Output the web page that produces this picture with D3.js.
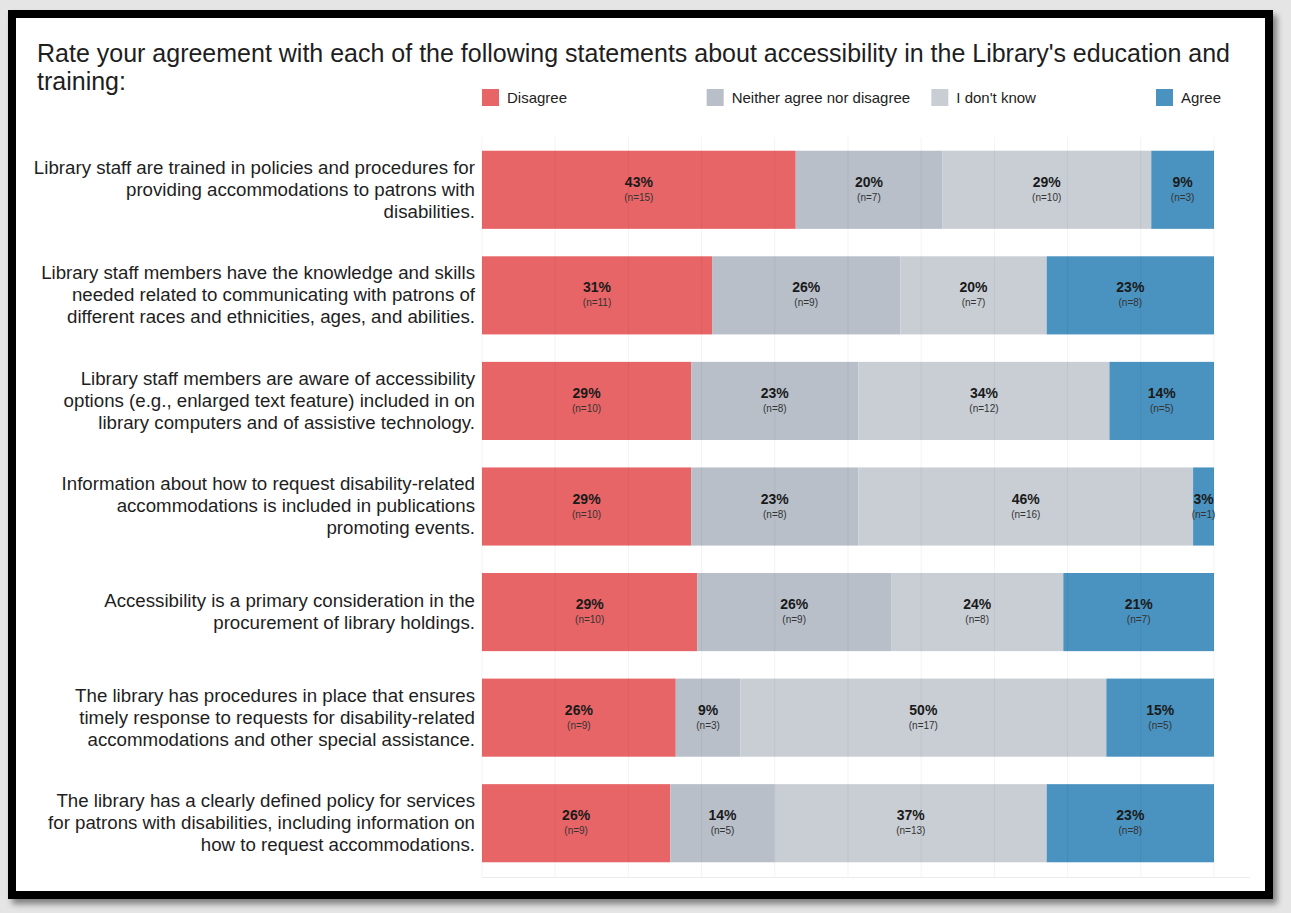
<!DOCTYPE html>
<html>
<head>
<meta charset="utf-8">
<script src="https://cdn.jsdelivr.net/npm/d3@7"></script>
<style>
  html, body { margin: 0; padding: 0; background: #e5e5e5; }
  svg { display: block; font-family: "Liberation Sans", Arial, sans-serif; }
</style>
</head>
<body>
<svg id="chart" width="1291" height="913"></svg>
<script>
// Survey statements (line breaks as laid out beside each bar)
const statements = [
  "Library staff are trained in policies and procedures for\nproviding accommodations to patrons with\ndisabilities.",
  "Library staff members have the knowledge and skills\nneeded related to communicating with patrons of\ndifferent races and ethnicities, ages, and abilities.",
  "Library staff members are aware of accessibility\noptions (e.g., enlarged text feature) included in on\nlibrary computers and of assistive technology.",
  "Information about how to request disability-related\naccommodations is included in publications\npromoting events.",
  "Accessibility is a primary consideration in the\nprocurement of library holdings.",
  "The library has procedures in place that ensures\ntimely response to requests for disability-related\naccommodations and other special assistance.",
  "The library has a clearly defined policy for services\nfor patrons with disabilities, including information on\nhow to request accommodations."
];

const responses = ["Disagree", "Neither agree nor disagree", "I don't know", "Agree"];

// Response counts per statement, in statement order
const disagree = [15, 11, 10, 10, 10, 9, 9];
const neither  = [7, 9, 8, 8, 9, 3, 5];
const dontKnow = [10, 7, 12, 16, 8, 17, 13];
const agree    = [3, 8, 5, 1, 7, 5, 8];

const colors = ["#e86567", "#b8bfc9", "#c9ced5", "#4a92bf"];
const gridTicks = [0, 0.1, 0.2, 0.3, 0.4, 0.5, 0.6, 0.7, 0.8, 0.9, 1];

const title1 = "Rate your agreement with each of the following statements about accessibility in the Library's education and";
const title2 = "training:";

const svg = d3.select("#chart");

// Framed panel with a soft drop shadow
const defs = svg.append("defs");
const f = defs.append("filter").attr("id", "shadow")
  .attr("x", "-5%").attr("y", "-5%").attr("width", "110%").attr("height", "110%");
f.append("feDropShadow").attr("dx", 4).attr("dy", 5).attr("stdDeviation", 3)
  .attr("flood-color", "#000").attr("flood-opacity", 0.45);

svg.append("rect").attr("x", 12).attr("y", 14).attr("width", 1257).attr("height", 881)
  .attr("fill", "#fff").attr("stroke", "#000").attr("stroke-width", 8)
  .attr("filter", "url(#shadow)");

// Title
svg.append("text").attr("x", 37).attr("y", 62).attr("font-size", 25).attr("fill", "#1e1e1e").text(title1);
svg.append("text").attr("x", 37).attr("y", 90).attr("font-size", 25).attr("fill", "#1e1e1e").text(title2);

// Build stacked rows
const rows = statements.map((s, i) => {
  const counts = [disagree[i], neither[i], dontKnow[i], agree[i]];
  const total = d3.sum(counts);
  let acc = 0;
  const segs = counts.map((c, k) => {
    const seg = { k, n: c, p: c / total, x0: acc / total, x1: (acc + c) / total };
    acc += c;
    return seg;
  });
  return { label: s, segs };
});

const x = d3.scaleLinear().domain([0, 1]).range([482, 1214]);
const y = d3.scaleBand().domain(d3.range(statements.length)).range([137, 876]).paddingInner(0.26).paddingOuter(0.13);

// Legend
const legendX = d3.scaleLinear().domain([0, 3]).range([482, 1156]);
const lg = svg.append("g").selectAll("g").data(responses).join("g")
  .attr("transform", (d, i) => `translate(${legendX(i)},89)`);
lg.append("rect").attr("width", 17).attr("height", 17).attr("fill", (d, i) => colors[i]);
lg.append("text").attr("x", 25).attr("y", 14).attr("font-size", 15).attr("fill", "#222").text(d => d);

// Bars
const rowG = svg.append("g").selectAll("g").data(rows).join("g")
  .attr("transform", (d, i) => `translate(0,${y(i)})`);

rowG.selectAll("rect").data(d => d.segs).join("rect")
  .attr("x", d => x(d.x0)).attr("width", d => x(d.x1) - x(d.x0))
  .attr("y", 0).attr("height", y.bandwidth())
  .attr("fill", d => colors[d.k]);

// Vertical gridlines, drawn faintly over the bars
const gridG = svg.append("g");
gridG.selectAll("line").data(gridTicks).join("line")
  .attr("x1", d => x(d)).attr("x2", d => x(d))
  .attr("y1", 137).attr("y2", 877)
  .attr("stroke", "#000").attr("stroke-opacity", 0.05).attr("stroke-width", 1);
gridG.append("line").attr("x1", 482).attr("x2", 1250).attr("y1", 877.5).attr("y2", 877.5)
  .attr("stroke", "#000").attr("stroke-opacity", 0.08);

// Segment labels
const labG = rowG.selectAll("g.lab").data(d => d.segs).join("g").attr("class", "lab")
  .attr("transform", d => `translate(${(x(d.x0) + x(d.x1)) / 2},${y.bandwidth() / 2})`);
labG.append("text").attr("text-anchor", "middle").attr("y", -3)
  .attr("font-size", 14).attr("font-weight", "bold").attr("fill", "#1a1a1a")
  .text(d => Math.round(d.p * 100) + "%");
labG.append("text").attr("text-anchor", "middle").attr("y", 11)
  .attr("font-size", 10).attr("fill", "#333")
  .text(d => `(n=${d.n})`);

// Statement labels, right-aligned beside each bar
rowG.each(function(d) {
  const lines = d.label.split("\n");
  const lh = 22;
  const t = d3.select(this).append("text").attr("text-anchor", "end")
    .attr("font-size", 18.7).attr("fill", "#1e1e1e");
  lines.forEach((ln, j) => {
    t.append("tspan").attr("x", 475)
      .attr("y", y.bandwidth() / 2 + (j - (lines.length - 1) / 2) * lh + 6)
      .text(ln);
  });
});
</script>
</body>
</html>
